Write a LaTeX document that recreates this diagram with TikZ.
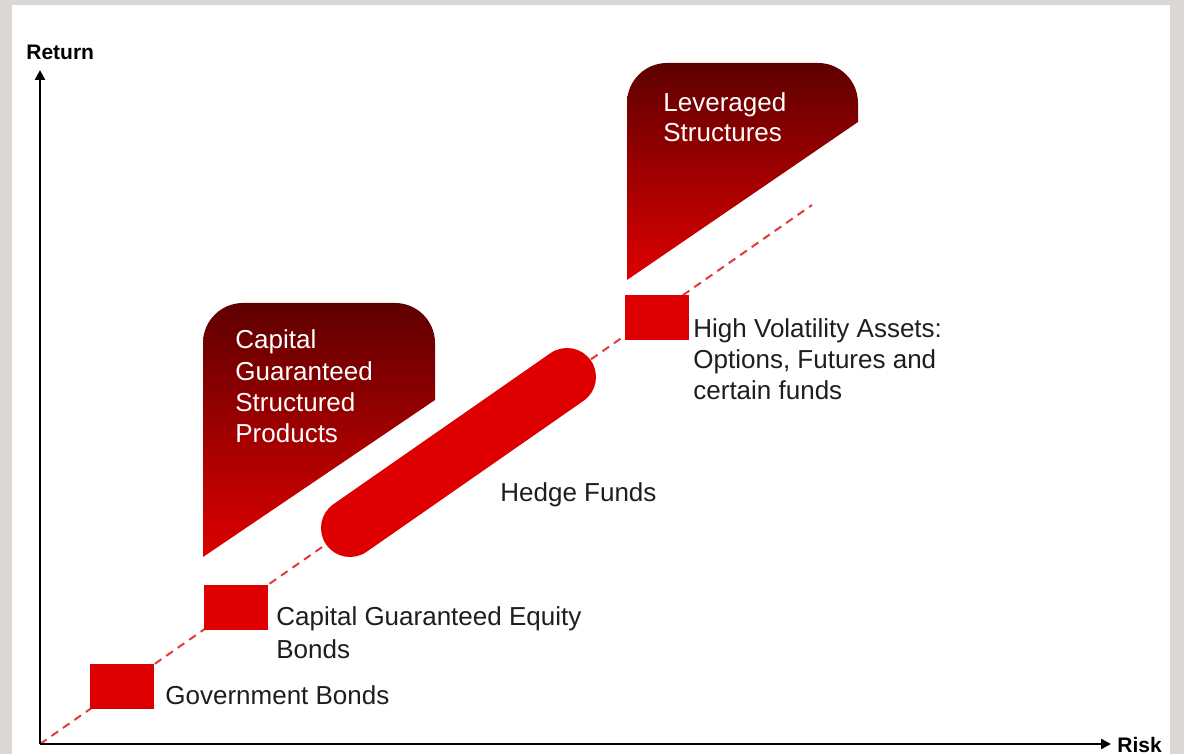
\documentclass[tikz,border=0pt]{standalone}
\usepackage{fontspec}
\setmainfont{Liberation Sans}
\usetikzlibrary{arrows.meta}
\definecolor{bggray}{HTML}{DCD7D3}
\definecolor{boxred}{HTML}{DE0000}
\definecolor{darkred}{HTML}{5E0000}
\definecolor{dashred}{HTML}{E23A3A}
\definecolor{txtgray}{HTML}{1E1E1E}
\tikzset{
  redbox/.style={fill=boxred, draw=none, inner sep=0, minimum width=32pt, minimum height=22.5pt, anchor=north west},
  lbl/.style={inner sep=0, anchor=base west, align=left, text=txtgray, font=\fontsize{13}{16.5}\selectfont},
  wlbl/.style={inner sep=0, anchor=base west, align=left, text=white, font=\fontsize{13}{15.75}\selectfont},
  axlbl/.style={inner sep=0, anchor=base west, text=black, font=\fontsize{10.5}{12}\selectfont\bfseries},
  axis/.style={line width=1.2pt, -{Triangle[length=5pt,width=5pt]}},
  riskline/.style={dashred, line width=1pt, dash pattern=on 4pt off 3pt},
  callout/.style={top color=darkred, bottom color=boxred, draw=none}
}
\begin{document}
\begin{tikzpicture}[x=0.5pt,y=-0.5pt]
\useasboundingbox (0,0) rectangle (1184,754);
\fill[bggray] (0,0) rectangle (1184,754);
\fill[white] (12,5) rectangle (1170,754);

% origin and dashed risk/return line
\coordinate (o) at (40,744);
\coordinate (lineend) at (812,205);
\draw[riskline] (o) -- (lineend);

% callout shapes
\shade[callout] (435,400) -- (203,557) [rounded corners=20pt] -- (203,303) -- (435,303) [sharp corners] -- cycle;
\shade[callout] (858,122) -- (627,280) [rounded corners=20pt] -- (627,63) -- (858,63) [sharp corners] -- cycle;

% hedge funds capsule
\coordinate (hfa) at (350,528);
\coordinate (hfb) at (567,377);
\draw[boxred, line width=29pt, line cap=round] (hfa) -- (hfb);

% red boxes
\node[redbox] (gov) at (90,664) {};
\node[redbox] (cgeb) at (204,585) {};
\node[redbox] (hva) at (625,295) {};

% axes
\draw[axis] (o) -- (40,70) coordinate (ytip);
\draw[axis] (o) -- (1111,744) coordinate (xtip);
\node[axlbl] (ret) at (26,60) {Return};
\node[axlbl] (risk) at (1117,752) {Risk};

% labels
\node[lbl] (govl) at (165,704) {Government Bonds};
\node[lbl] (cgebl) at (276,658) {Capital Guaranteed Equity\\Bonds};
\node[lbl] (hfl) at (500,501) {Hedge Funds};
\node[lbl, font=\fontsize{13}{15.75}\selectfont] (hval) at (693,400) {High Volatility Assets:\\Options, Futures and\\certain funds};
\node[wlbl] (cgspl) at (235,443) {Capital\\Guaranteed\\Structured\\Products};
\node[wlbl, font=\fontsize{13}{15}\selectfont] (levl) at (663,142) {Leveraged\\Structures};
\end{tikzpicture}
\end{document}
